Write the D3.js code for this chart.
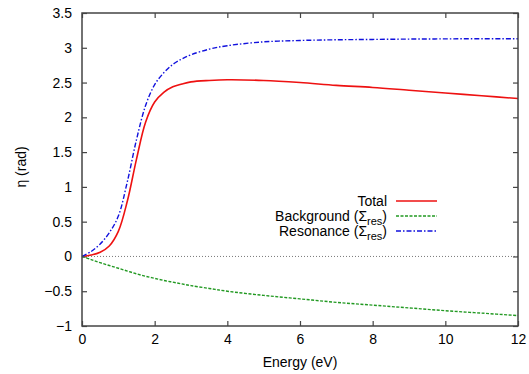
<!DOCTYPE html>
<html>
<head>
<meta charset="utf-8">
<script src="https://cdn.jsdelivr.net/npm/d3@7"></script>
<style>
body { margin: 0; background: #fff; }
text { font-family: "Liberation Sans", Arial, sans-serif; fill: #000; }
</style>
</head>
<body>
<div id="chart"></div>
<script>
// energies (eV) and phase shifts (rad)
var energy = [0, 0.25, 0.5, 0.75, 1, 1.25, 1.5, 1.75, 2, 2.25, 2.5, 2.75, 3, 3.5, 4, 5, 6, 7, 8, 9, 10, 11, 12];
var total = [0, 0.02, 0.06, 0.15, 0.36, 0.8, 1.4, 1.93, 2.22, 2.36, 2.44, 2.48, 2.51, 2.53, 2.54, 2.53, 2.5, 2.46, 2.43, 2.39, 2.35, 2.31, 2.27];
var background = [0, -0.045, -0.09, -0.13, -0.17, -0.21, -0.25, -0.285, -0.315, -0.345, -0.37, -0.395, -0.42, -0.46, -0.5, -0.56, -0.61, -0.66, -0.70, -0.74, -0.78, -0.815, -0.85];
var resonance = [0, 0.07, 0.18, 0.34, 0.58, 1.08, 1.68, 2.17, 2.47, 2.64, 2.76, 2.84, 2.9, 2.98, 3.03, 3.085, 3.105, 3.115, 3.12, 3.125, 3.128, 3.13, 3.13];
var xTicks = [0, 2, 4, 6, 8, 10, 12];
var yTicks = [-1, -0.5, 0, 0.5, 1, 1.5, 2, 2.5, 3, 3.5];

var W = 529, H = 374;
var margin = {top: 13, right: 11, bottom: 48, left: 82},
    width = W - margin.left - margin.right,
    height = H - margin.top - margin.bottom;

var svg = d3.select("#chart")
  .append("svg")
  .attr("width", W)
  .attr("height", H)
  .append("g")
  .attr("transform", "translate(" + margin.left + "," + margin.top + ")");

var x = d3.scaleLinear().domain([0, 12]).range([0, width]);
var y = d3.scaleLinear().domain([-1, 3.5]).range([height, 0]);

var fmt = function(d) { return String(d).replace("-", "\u2212"); };
var axisColor = "#444";

// axes with inward ticks, mirrored on top and right
var gx = svg.append("g").attr("transform", "translate(0," + height + ")")
  .call(d3.axisBottom(x).tickValues(xTicks).tickSize(-5).tickPadding(10).tickFormat(fmt));
var gxt = svg.append("g")
  .call(d3.axisTop(x).tickValues(xTicks).tickSize(-5).tickFormat(""));
var gy = svg.append("g")
  .call(d3.axisLeft(y).tickValues(yTicks).tickSize(-5).tickPadding(10).tickFormat(fmt));
var gyr = svg.append("g").attr("transform", "translate(" + width + ",0)")
  .call(d3.axisRight(y).tickValues(yTicks).tickSize(-5).tickFormat(""));

[gx, gxt, gy, gyr].forEach(function(g) {
  g.select(".domain").remove();
  g.selectAll(".tick line").attr("stroke", axisColor).attr("stroke-width", 1.2);
  g.selectAll("text").attr("font-size", 14).attr("fill", "#000")
    .style("font-family", "'Liberation Sans', Arial, sans-serif");
});
gx.selectAll("text").attr("dy", "0.6em");

// zero line
svg.append("line")
  .attr("x1", 0).attr("x2", width)
  .attr("y1", y(0)).attr("y2", y(0))
  .attr("stroke", "#555").attr("stroke-width", 0.8)
  .attr("stroke-dasharray", "1,2");

// curves
var series = [
  {name: "Total", values: total, color: "#ee1111", dash: null},
  {name: "Background", values: background, color: "#229922", dash: "3,1.5"},
  {name: "Resonance", values: resonance, color: "#1111dd", dash: "5,2,1.5,2"}
];

var line = d3.line()
  .x(function(d) { return x(d[0]); })
  .y(function(d) { return y(d[1]); })
  .curve(d3.curveCatmullRom.alpha(0.5));

series.forEach(function(s) {
  svg.append("path")
    .datum(energy.map(function(e, i) { return [e, s.values[i]]; }))
    .attr("fill", "none")
    .attr("stroke", s.color)
    .attr("stroke-width", s.dash ? 1.4 : 1.6)
    .attr("stroke-dasharray", s.dash)
    .attr("d", line);
});

// frame
svg.append("rect")
  .attr("width", width).attr("height", height)
  .attr("fill", "none").attr("stroke", axisColor).attr("stroke-width", 1.5);

// legend
var legend = svg.append("g").attr("transform", "translate(" + (387 - margin.left) + "," + (201 - margin.top) + ")");
series.forEach(function(s, i) {
  var row = legend.append("g").attr("transform", "translate(0," + (i * 15) + ")");
  var t = row.append("text").attr("text-anchor", "end").attr("y", 5).attr("font-size", 14);
  if (i === 0) {
    t.text("Total");
  } else {
    t.append("tspan").text(s.name + " (\u03A3");
    t.append("tspan").attr("font-size", 11).attr("dy", 4).text("res");
    t.append("tspan").attr("dy", -4).text(")");
  }
  row.append("line")
    .attr("x1", 9).attr("x2", 50)
    .attr("stroke", s.color)
    .attr("stroke-width", s.dash ? 1.4 : 1.6)
    .attr("stroke-dasharray", s.dash);
});

// axis labels
svg.append("text")
  .attr("x", width / 2).attr("y", 354 - margin.top + 13)
  .attr("text-anchor", "middle").attr("font-size", 14)
  .text("Energy (eV)");

svg.append("text")
  .attr("transform", "translate(" + (26 - margin.left) + "," + (167 - margin.top) + ") rotate(-90)")
  .attr("text-anchor", "middle").attr("font-size", 14)
  .text("\u03B7 (rad)");
</script>
</body>
</html>
